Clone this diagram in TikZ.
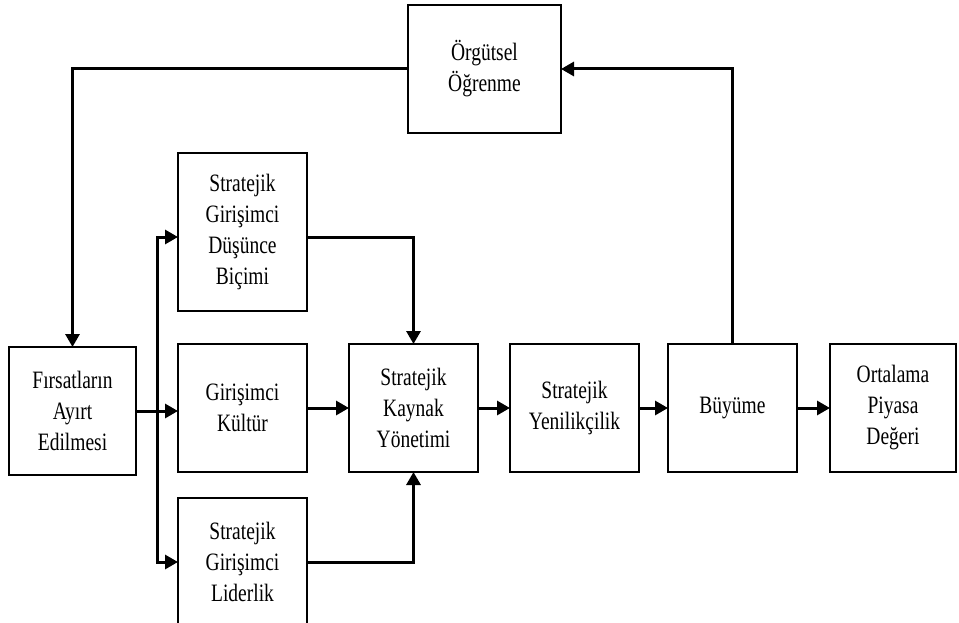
\documentclass[tikz,border=0pt]{standalone}
\usepackage{fontspec}
\setmainfont{Liberation Serif}[FakeStretch=0.78]
\usetikzlibrary{arrows.meta,positioning}
\tikzset{
  box/.style={draw, line width=2.4pt, align=center, minimum width=129pt, outer sep=0pt,
              minimum height=128pt, inner sep=2pt, font=\fontsize{25}{31}\selectfont},
  tallbox/.style={box, minimum height=158pt},
  flow/.style={-{Triangle[length=13pt,width=14pt]}, line width=3pt},
}

\begin{document}
\begin{tikzpicture}[x=1pt, y=1pt, node distance=42pt]
  \path[use as bounding box, clip] (0,0) rectangle (959,-623);
  \node[box, minimum width=127pt] (fir) at (72.5,-411) {Fırsatların\\ Ayırt\\ Edilmesi};
  \node[box] (kul) at (242.5,-408) {Girişimci\\ Kültür};
  \node[tallbox, above=33pt of kul] (dus) {Stratejik\\ Girişimci\\ Düşünce\\ Biçimi};
  \node[box, below=26pt of kul] (lid) {Stratejik\\ Girişimci\\ Liderlik};
  \node[box, right=of kul] (kay) {Stratejik\\ Kaynak\\ Yönetimi};
  \node[box, right=32pt of kay] (yen) {Stratejik\\ Yenilikçilik};
  \node[box, right=29pt of yen] (buy) {Büyüme};
  \node[box, right=33pt of buy, minimum width=126pt] (ort) {Ortalama\\ Piyasa\\ Değeri};
  \node[box, minimum width=153pt] (org) at (484.5,-69) {Örgütsel\\ Öğrenme};
  \coordinate (br) at (157,-411);
  % dallanma
  \draw[flow] (fir.east) -- (fir.east -| kul.west);
  \draw[flow] (br) |- ([yshift=-5pt]dus.west);
  \draw[flow] (br) |- (lid.west);
  \draw[flow] ([yshift=-5pt]dus.east) -| (kay.north);
  \draw[flow] (lid.east) -| (kay.south);
  \draw[flow] (kul) -- (kay);
  \draw[flow] (kay) -- (yen);
  \draw[flow] (yen) -- (buy);
  \draw[flow] (buy) -- (ort);
  % geri besleme
  \draw[flow] (buy.north) |- (org.east);
  \draw[flow] (org.west) -| (fir.north);
\end{tikzpicture}
\end{document}
